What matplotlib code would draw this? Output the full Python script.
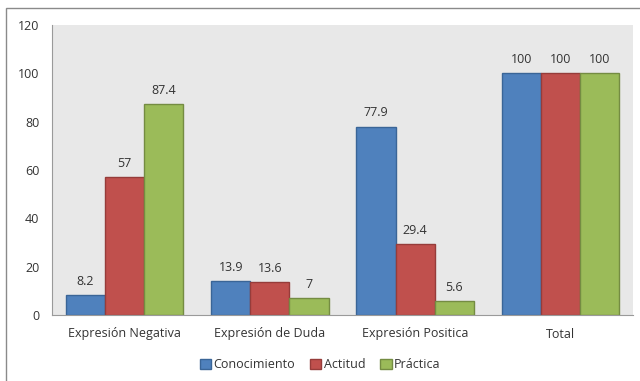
import matplotlib
matplotlib.use("Agg")
import matplotlib.pyplot as plt
from matplotlib.patches import Rectangle
import numpy as np

categories = ["Expresión Negativa", "Expresión de Duda", "Expresión Positica", "Total"]
series_names = ["Conocimiento", "Actitud", "Práctica"]
conocimiento = [8.2, 13.9, 77.9, 100]
actitud = [57, 13.6, 29.4, 100]
practica = [87.4, 7, 5.6, 100]
y_ticks = [0, 20, 40, 60, 80, 100, 120]

colors = ["#4F81BD", "#C0504D", "#9BBB59"]
edges = ["#3A6597", "#963C3A", "#748C42"]

W, H = 640, 381
fig = plt.figure(figsize=(W / 100, H / 100), dpi=100)
plt.rcParams["font.family"] = ["Open Sans", "DejaVu Sans"]

# outer chart frame
fig.patches.append(Rectangle((6 / W, -0.05), 1.2, 1 - 8 / H + 0.05, transform=fig.transFigure,
                             fill=False, edgecolor="#8a8a8a", linewidth=1.0))

ax = fig.add_axes([52 / W, 1 - 315 / H, (633 - 52) / W, (315 - 25) / H])
ax.set_facecolor("#e8e8e8")

x = np.arange(len(categories))
bw = 0.27
for i, (vals, name) in enumerate(zip([conocimiento, actitud, practica], series_names)):
    pos = x + (i - 1) * bw
    ax.bar(pos, vals, width=bw, color=colors[i], edgecolor=edges[i], linewidth=1.0, label=name)
    for p, v in zip(pos, vals):
        ax.text(p, v + 3, f"{v:g}", ha="center", va="bottom", fontsize=9, color="#333333")

ax.set_xlim(-0.5, len(categories) - 0.5)
ax.set_ylim(0, 120)
ax.set_yticks(y_ticks)
ax.set_xticks(x)
ax.set_xticklabels(categories)
ax.tick_params(axis="both", length=0, labelsize=9, colors="#333333")
ax.tick_params(axis="y", pad=9)
ax.tick_params(axis="x", pad=9)
for s in ["top", "right"]:
    ax.spines[s].set_visible(False)
for s in ["left", "bottom"]:
    ax.spines[s].set_color("#9a9a9a")

leg = fig.legend(loc="center", bbox_to_anchor=(0.5, 1 - 365 / H), ncol=3, frameon=False,
                 fontsize=9, handlelength=0.9, handleheight=0.9, handletextpad=0.2,
                 columnspacing=1.2)
for t in leg.get_texts():
    t.set_color("#333333")

fig.savefig("out.png", dpi=100)
